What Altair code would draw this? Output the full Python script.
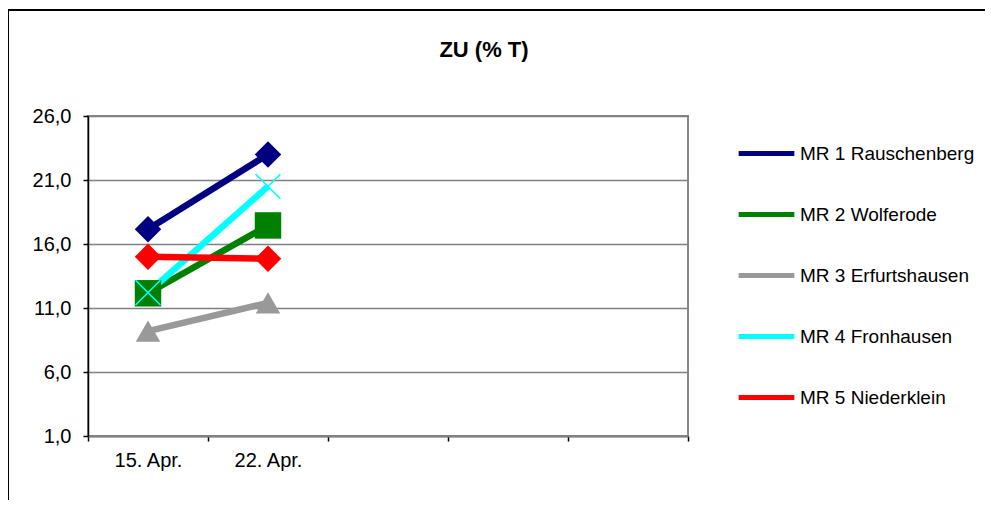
import altair as alt
import pandas as pd

dates = ["15. Apr.", "22. Apr."]
slots = ["15. Apr.", "22. Apr.", "3", "4", "5"]
series = ["MR 1 Rauschenberg", "MR 2 Wolferode", "MR 3 Erfurtshausen",
          "MR 4 Fronhausen", "MR 5 Niederklein"]
values = {
    "MR 1 Rauschenberg": [17.15, 23.0],
    "MR 2 Wolferode": [12.15, 17.45],
    "MR 3 Erfurtshausen": [9.2, 11.4],
    "MR 4 Fronhausen": [12.2, 20.5],
    "MR 5 Niederklein": [15.0, 14.85],
}
colors = ["#000080", "#008000", "#999999", "#00FFFF", "#FF0000"]
shapes = ["diamond", "square", "triangle-up", "M-1,-1L1,1M-1,1L1,-1", "diamond"]
y_ticks = [1, 6, 11, 16, 21, 26]
title_text = "ZU (% T)"

rows = []
for i, s in enumerate(series):
    for d, v in zip(dates, values[s]):
        rows.append({"series": s, "date": d, "value": v, "order": i})
df = pd.DataFrame(rows)

FONT = "Liberation Sans"

x_enc = alt.X("date:N", scale=alt.Scale(domain=slots, paddingInner=0, paddingOuter=0),
              axis=alt.Axis(title=None, labelAngle=0, tickBand="extent",
                            labelExpr="(datum.value == '15. Apr.' || datum.value == '22. Apr.') ? datum.label : ''",
                            domainColor="#808080", domainWidth=2,
                            tickColor="#000000", tickSize=5, tickWidth=1.5,
                            labelFontSize=20, labelPadding=9, labelFont=FONT,
                            labelColor="#000000", grid=False))
y_enc = alt.Y("value:Q", scale=alt.Scale(domain=[1, 26], nice=False, zero=False),
              axis=alt.Axis(title=None, values=y_ticks,
                            labelExpr="replace(format(datum.value, '.1f'), '.', ',')",
                            domainColor="#000000", domainWidth=1.5,
                            tickColor="#000000", tickSize=5, tickWidth=1.5,
                            labelFontSize=20, labelPadding=12, labelFont=FONT,
                            labelColor="#000000",
                            grid=True, gridColor="#808080", gridWidth=1.5))
color_enc = alt.Color("series:N", scale=alt.Scale(domain=series, range=colors),
                      legend=alt.Legend(title=None, orient="none", legendX=648, legendY=7,
                                        symbolType="stroke", symbolStrokeWidth=5,
                                        symbolSize=3100, labelFontSize=19, labelFont=FONT,
                                        labelColor="#000000", labelOffset=3,
                                        rowPadding=20, labelLimit=400))

base = alt.Chart(df)
lines = base.mark_line(strokeWidth=6.5).encode(x=x_enc, y=y_enc, color=color_enc, order="order:Q")

point_layers = []
for s, c, sh in zip(series, colors, shapes):
    sub = base.transform_filter(alt.datum.series == s)
    if sh.startswith("M"):
        pl = sub.mark_point(shape=sh, filled=False, color=c, opacity=1, size=620, strokeWidth=1.5)
    else:
        pl = sub.mark_point(shape=sh, filled=True, color=c, opacity=1,
                            size=600 if sh == "triangle-up" else 700)
    point_layers.append(pl.encode(x=x_enc, y=y_enc))

deco = alt.Chart(pd.DataFrame({"t": [title_text]}))
border = deco.mark_rect(fill=None, stroke="#000000", strokeWidth=2, clip=False).encode(
    x=alt.value(-80), x2=alt.value(1100), y=alt.value(-106), y2=alt.value(600))
title = deco.mark_text(font=FONT, fontSize=22, fontWeight="bold", color="#000000",
                       align="center", baseline="middle").encode(
    text="t:N", x=alt.value(396), y=alt.value(-66))

chart = alt.layer(border, lines, *point_layers, title).properties(
    width=600, height=320,
    autosize=alt.AutoSizeParams(type="none"),
    padding={"left": 80, "top": 108, "right": 297, "bottom": 64},
    background="white",
).configure_view(stroke="#888888", strokeWidth=2)

chart.save("out.html", embed_options={"renderer": "svg", "actions": False})
